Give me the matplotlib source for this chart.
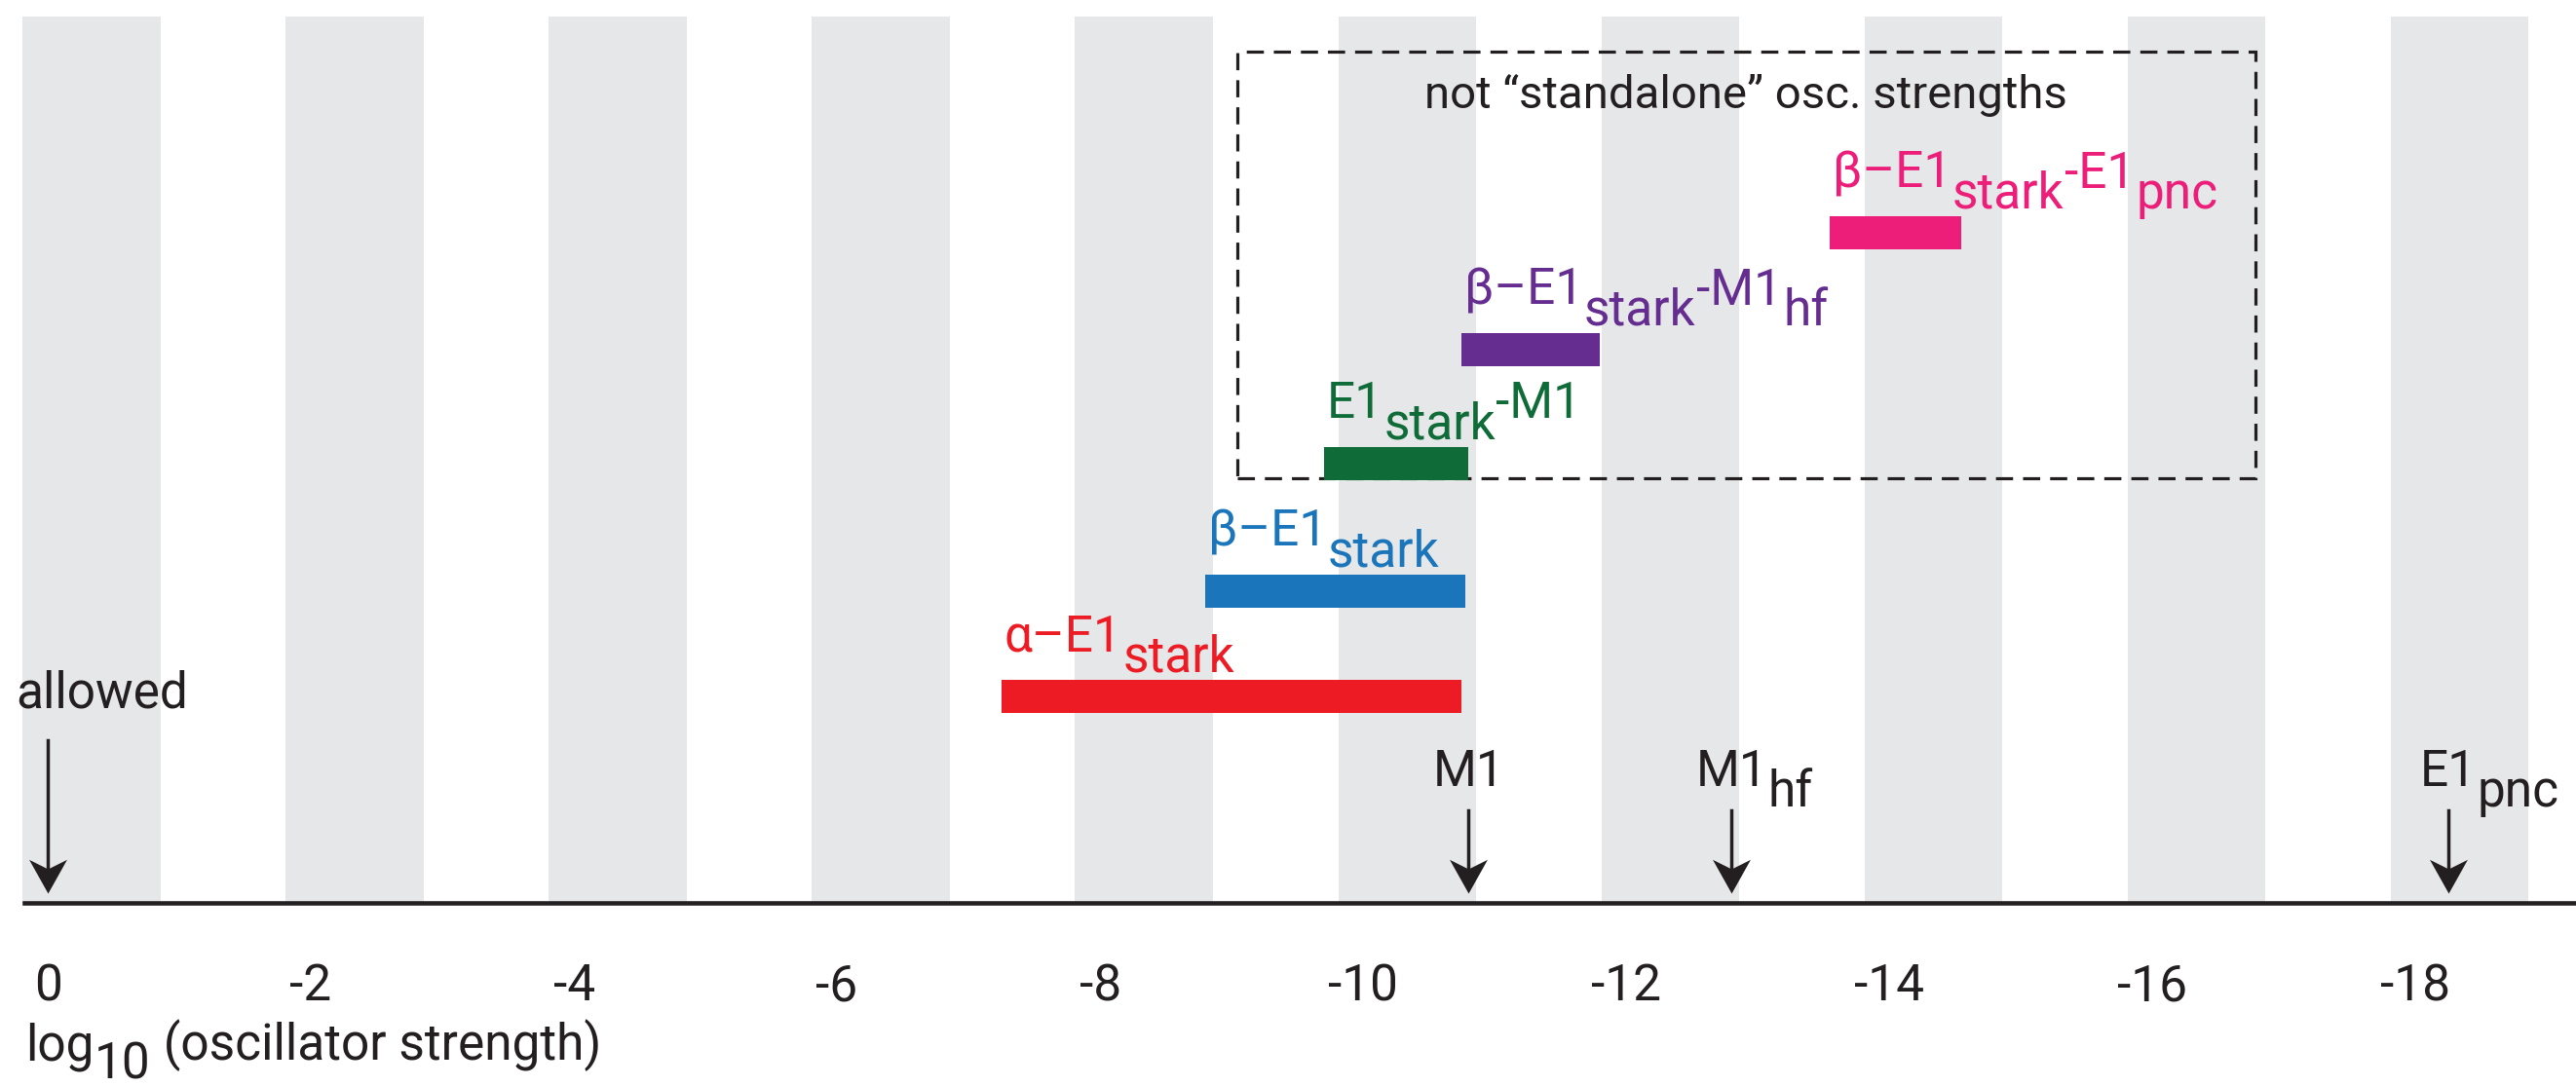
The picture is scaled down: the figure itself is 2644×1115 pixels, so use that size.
import matplotlib.pyplot as plt
from matplotlib.patches import Rectangle

plt.rcParams['font.family'] = ['Roboto', 'DejaVu Sans']

# log10 ranges of the oscillator strengths (start, end)
bar_start = [-7.25, -8.8, -9.7, -10.75, -13.55]
bar_end = [-10.75, -10.78, -10.8, -11.8, -14.55]
bar_colors = ['#ed1c24', '#1b75bb', '#0f6b38', '#662d91', '#ec1e79']
# label pieces: (text, 1 = lowered like a subscript)
bar_labels = [
    [('α–E1', 0), ('stark', 1)],
    [('β–E1', 0), ('stark', 1)],
    [('E1', 0), ('stark', 1), ('-M1', 0)],
    [('β–E1', 0), ('stark', 1), ('-M1', 0), ('hf', 1)],
    [('β–E1', 0), ('stark', 1), ('-E1', 0), ('pnc', 1)],
]
bar_rows = [0.233, 0.352, 0.496, 0.624, 0.756]

# single transitions marked with arrows
arrow_x = [0, -10.8, -12.8, -18.25]
arrow_labels = [
    [('allowed', 0)],
    [('M1', 0)],
    [('M1', 0), ('hf', 1)],
    [('E1', 0), ('pnc', 1)],
]

ticks = [0, -2, -4, -6, -8, -10, -12, -14, -16, -18]
tick_labels = ['0', '-2', '-4', '-6', '-8', '-10', '-12', '-14', '-16', '-18']

box_x = (-9.04, -16.78)
box_title = 'not “standalone” osc. strengths'

BLACK = '#231f20'
GREY = '#e6e7e8'
FS = 37
SUB = 15  # points the subscript parts are lowered


fig = plt.figure(figsize=(26.44, 11.15), dpi=100)
ax = fig.add_axes([0, 0.1686, 1, 0.8161])
ax.set_xlim(0.363, -19.22)
ax.set_ylim(0, 1)


def rich(x, y, parts, color, size=FS, ha='left', sub=SUB):
    # chain text pieces, lowering the ones flagged as subscripts
    t = ax.text(x, y, parts[0][0], color=color, fontsize=size, ha=ha,
                va='baseline', zorder=5)
    prev = parts[0][1]
    for s, lvl in parts[1:]:
        dy = -(lvl - prev) * sub
        t = ax.annotate(s, xy=(1, 0), xycoords=t, xytext=(0.5, dy),
                        textcoords='offset points', color=color, fontsize=size,
                        ha='left', va='bottom', zorder=5)
        prev = lvl
    return t


# background stripes
for k in range(10):
    ax.axvspan(0.19 - 2 * k, -0.86 - 2 * k, color=GREY, lw=0, zorder=0)

# bars with their labels
for s, e, c, lab, r in zip(bar_start, bar_end, bar_colors, bar_labels, bar_rows):
    ax.barh(r, e - s, left=s, height=0.0374, color=c, zorder=3)
    rich(s - 0.02, r + 0.051, lab, c)

# dashed box round the non standalone ones
ax.add_patch(Rectangle((box_x[0], 0.479), box_x[1] - box_x[0], 0.481,
                       fill=False, ec=BLACK, lw=2.3, ls=(0, (5.5, 3.2)), zorder=2))
ax.text((box_x[0] + box_x[1]) / 2, 0.897, box_title, ha='center', va='baseline',
        fontsize=34, color=BLACK)

# arrows
head = [(0, 0), (-0.56, 1), (0, 0.72), (0.56, 1), (0, 0)]
for i, (x, lab) in enumerate(zip(arrow_x, arrow_labels)):
    top = 0.1835 if i == 0 else 0.104
    ax.plot([x, x], [top, 0.03], color=BLACK, lw=2.5, zorder=4)
    ax.plot(x, 0.011, marker=head, ms=50, color=BLACK, mew=0, zorder=4)
    if i == 0:
        rich(0.244, 0.22, lab, BLACK)
    else:
        rich(x, 0.132, lab, BLACK, ha='center')

# axis line and ticks
for side in ['top', 'left', 'right']:
    ax.spines[side].set_visible(False)
ax.spines['bottom'].set_linewidth(3.3)
ax.spines['bottom'].set_color(BLACK)
ax.spines['bottom'].set_bounds(0.178, -19.22)
ax.spines['bottom'].set_zorder(6)
ax.set_yticks([])
ax.set_xticks(ticks, tick_labels)
ax.tick_params(axis='x', length=0, pad=44, labelsize=FS, labelcolor=BLACK)

rich(0.17, -0.178, [('log', 0), ('10', 1), (' (oscillator strength)', 0)], BLACK,
     sub=13)

fig.savefig('out.png', dpi=100)
